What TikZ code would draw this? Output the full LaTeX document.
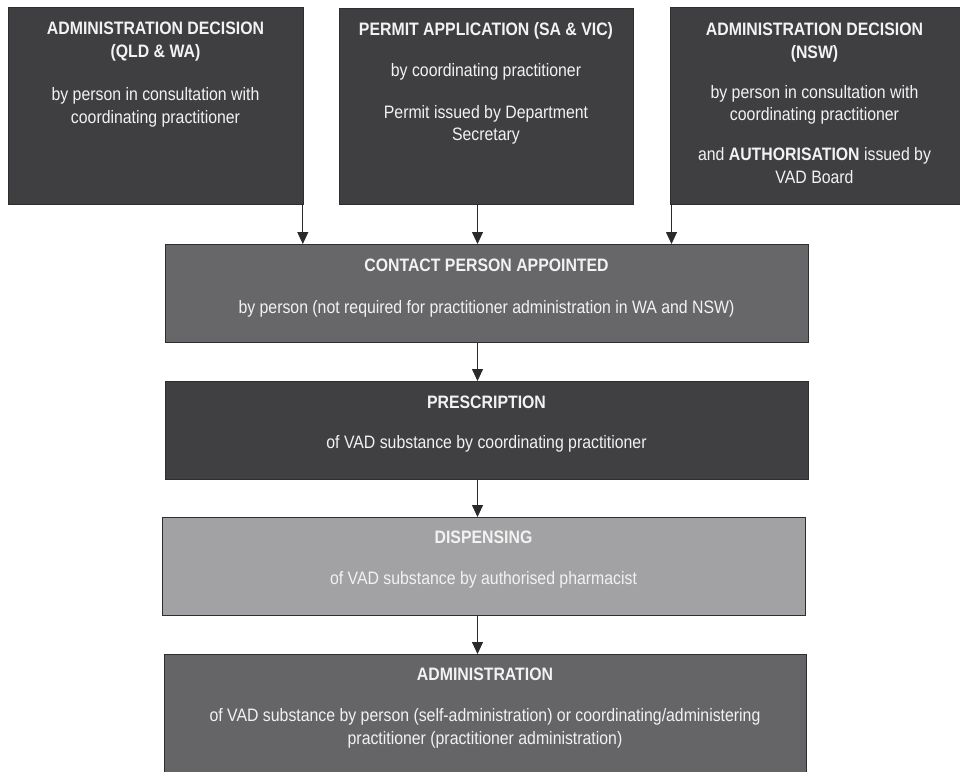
\documentclass[tikz,border=0pt]{standalone}
\usepackage{fontspec}
\setmainfont[FakeStretch=0.88]{Liberation Sans}
\usetikzlibrary{arrows.meta,calc}
\definecolor{topc}{HTML}{3F3F41}
\definecolor{contc}{HTML}{676769}
\definecolor{presc}{HTML}{404042}
\definecolor{dispc}{HTML}{A2A2A4}
\definecolor{admc}{HTML}{656567}
\definecolor{edgec}{HTML}{2E2E30}
\definecolor{linec}{HTML}{2A2A2A}
\definecolor{textc}{HTML}{F2F2F2}
\tikzset{
  box/.style={draw=edgec, line width=0.8pt, anchor=north west, inner sep=0pt, minimum width=#1},
  txt/.style={text=textc, align=center, inner sep=0pt, anchor=base, font=\fontsize{18}{23}\selectfont},
  ttl/.style={txt, font=\fontsize{18}{23}\selectfont\bfseries},
  arr/.style={draw=linec, line width=0.8pt, -{Triangle[width=11pt,length=12pt]}}
}
\begin{document}
\begin{tikzpicture}[x=1pt,y=-1pt]
\useasboundingbox (0,0) rectangle (960,771);
% top boxes
\node[box=295pt, minimum height=197pt, fill=topc] (b1) at (8,7) {};
\node[box=294pt, minimum height=196pt, fill=topc] (b2) at (339,8) {};
\node[box=290pt, minimum height=197pt, fill=topc] (b3) at (670,7) {};
% middle boxes
\node[box=643pt, minimum height=98pt, fill=contc] (cont) at (165,244) {};
\node[box=643pt, minimum height=98pt, fill=presc] (pres) at (165,381) {};
\node[box=643pt, minimum height=98pt, fill=dispc] (disp) at (162,517) {};
\node[box=642pt, minimum height=125pt, fill=admc] (adm) at (164,654) {};
% texts box 1
\node[ttl] (t1a) at (155.5,34) {ADMINISTRATION DECISION};
\node[ttl] (t1b) at (155.5,57) {(QLD \& WA)};
\node[txt] (t1c) at (155.5,100) {by person in consultation with};
\node[txt] (t1d) at (155.5,123) {coordinating practitioner};
% texts box 2
\node[ttl] (t2a) at (486,35) {PERMIT APPLICATION (SA \& VIC)};
\node[txt] (t2b) at (486,76) {by coordinating practitioner};
\node[txt] (t2c) at (486,118) {Permit issued by Department};
\node[txt] (t2d) at (486,140) {Secretary};
% texts box 3
\node[ttl] (t3a) at (814.5,35) {ADMINISTRATION DECISION};
\node[ttl] (t3b) at (814.5,58) {(NSW)};
\node[txt] (t3c) at (814.5,98) {by person in consultation with};
\node[txt] (t3d) at (814.5,120) {coordinating practitioner};
\node[txt] (t3e) at (814.5,160) {and \textbf{AUTHORISATION} issued by};
\node[txt] (t3f) at (814.5,183) {VAD Board};
% middle texts
\node[ttl] (tca) at (486.5,271) {CONTACT PERSON APPOINTED};
\node[txt] (tcb) at (486.5,313) {by person (not required for practitioner administration in WA and NSW)};
\node[ttl] (tpa) at (486.5,408) {PRESCRIPTION};
\node[txt] (tpb) at (486.5,448) {of VAD substance by coordinating practitioner};
\node[ttl] (tda) at (483.5,543) {DISPENSING};
\node[txt] (tdb) at (483.5,584) {of VAD substance by authorised pharmacist};
\node[ttl] (taa) at (485,680) {ADMINISTRATION};
\node[txt] (tab) at (485,721) {of VAD substance by person (self-administration) or coordinating/administering};
\node[txt] (tac) at (485,744) {practitioner (practitioner administration)};
% arrows
\coordinate (ax) at (477.5,0);
\draw[arr] ([xshift=-1pt]b1.south east) -- ([xshift=-1pt]b1.south east |- cont.north);
\draw[arr] (b2.south -| ax) -- (cont.north -| ax);
\draw[arr] ([xshift=1.5pt]b3.south west) -- ([xshift=1.5pt]b3.south west |- cont.north);
\draw[arr] (cont.south -| ax) -- (pres.north -| ax);
\draw[arr] (pres.south -| ax) -- (disp.north -| ax);
\draw[arr] (disp.south -| ax) -- (adm.north -| ax);
\end{tikzpicture}
\end{document}
